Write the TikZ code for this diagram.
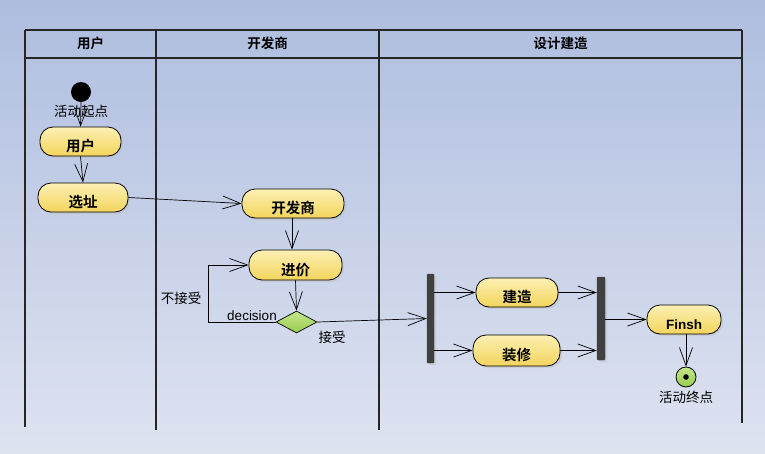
\documentclass[tikz,border=0pt]{standalone}
\usepackage{fontspec}
\setmainfont{Liberation Sans}
\newfontfamily\cjk{Noto Sans CJK SC}
\newfontfamily\cjkb{Noto Sans CJK SC Bold}
\usetikzlibrary{arrows.meta,shapes.geometric,shadows}
\definecolor{bgtop}{HTML}{AEBDDF}
\definecolor{bgbot}{HTML}{DEE3F0}
\definecolor{ntop}{HTML}{FCF0B4}
\definecolor{nbot}{HTML}{F3D45C}
\definecolor{gtop}{HTML}{C4E68A}
\definecolor{gbot}{HTML}{98CC50}
\definecolor{barc}{HTML}{404040}
\newcommand{\lowtxt}[2][-10pt]{\raisebox{#1}[0pt][0pt]{#2}}
\tikzset{
  act/.style={rounded corners=13pt, draw=black, line width=0.8pt, top color=ntop, bottom color=nbot,
    drop shadow={shadow xshift=2pt, shadow yshift=-2pt, fill=black!25, opacity=0.5},
    font=\cjkb\fontsize{14.5}{15}\selectfont, inner sep=0pt},
  lane/.style={draw=black!85, line width=1.1pt},
  conn/.style={line width=0.7pt, -{Straight Barb[length=18pt,width=13pt,line width=0.7pt]}},
  lbl/.style={font=\cjk\fontsize{13.5}{14}\selectfont, inner sep=0pt},
  hdr/.style={font=\cjkb\fontsize{13.5}{14}\selectfont, inner sep=0pt},
  barn/.style={fill=barc, draw=barc, rounded corners=1pt, inner sep=0pt,
    drop shadow={shadow xshift=2pt, shadow yshift=-2pt, fill=black!25, opacity=0.5}}
}
\begin{document}
\begin{tikzpicture}[x=1pt,y=-1pt]
\shade[top color=bgtop, bottom color=bgbot] (0,0) rectangle (765,453);
\useasboundingbox (0,0) rectangle (765,453);
% swimlanes
\draw[lane] (25,30) -- (742,30);
\draw[lane] (25,58) -- (742,58);
\draw[lane] (25,30) -- (25,427);
\draw[lane] (156,30) -- (156,430);
\draw[lane] (379,30) -- (379,430);
\draw[lane] (742,30) -- (742,423);
\node[hdr] (h1) at (90.5,43) {用户};
\node[hdr] (h2) at (267.5,43) {开发商};
\node[hdr] (h3) at (560.5,43) {设计建造};
% nodes
\node[circle, fill=black, minimum size=20pt, inner sep=0pt] (start) at (81,92) {};
\node[act, minimum width=81pt, minimum height=29pt] (user) at (80.5,141.5) {\lowtxt{用户}};
\node[act, minimum width=90pt, minimum height=29pt] (site) at (83,197.5) {\lowtxt{选址}};
\node[act, minimum width=102pt, minimum height=29pt] (dev) at (293,203.5) {\lowtxt{开发商}};
\node[act, minimum width=93pt, minimum height=30pt] (price) at (295.5,265) {\lowtxt{进价}};
\node[diamond, draw=black, line width=0.7pt, top color=gtop, bottom color=gbot, minimum width=41pt, minimum height=22pt, inner sep=0pt, aspect=1.9] (dec) at (296.5,322) {};
\node[barn, minimum width=7pt, minimum height=89pt] (fork) at (430.5,318.5) {};
\node[act, minimum width=82pt, minimum height=29pt] (build) at (517,292.5) {\lowtxt{建造}};
\node[act, minimum width=87pt, minimum height=31pt] (deco) at (516.5,350.5) {\lowtxt{装修}};
\node[barn, minimum width=8pt, minimum height=83pt] (join) at (601,318.5) {};
\node[act, minimum width=74pt, minimum height=29pt, font=\bfseries\fontsize{13.5}{14}\selectfont] (fin) at (684,319.5) {\lowtxt[-9.5pt]{Finsh}};
\node[circle, draw=black, line width=0.8pt, top color=gtop, bottom color=gbot, minimum size=20pt, inner sep=0pt] (end) at (686,377) {};
\fill (end.center) circle (2.8pt);
% labels
\node[lbl] (lstart) at (81,111) {活动起点};
\node[lbl] (lend) at (686,397) {活动终点};
\node[lbl] (lrej) at (181,298) {不接受};
\node[lbl, font=\fontsize{13.5}{14}\selectfont] (ldec) at (252,316) {decision};
\node[lbl] (lacc) at (332,337) {接受};
% connectors
\draw[conn] (start.south) -- (user.north);
\draw[conn] (user.south) -- (site.north);
\draw[conn] (site.east) -- (dev.west);
\draw[conn] (dev.south -| 292,0) -- (price.north -| 292,0);
\draw[conn] (price.south) -- (dec.north);
\coordinate (lb) at (208,322);
\coordinate (lt) at (208,265);
\draw[conn] (dec.west) -- (lb) -- (lt) -- (price.west);
\draw[conn] (dec.east) -- (fork.west);
\draw[conn] (fork.east |- build.west) -- (build.west);
\draw[conn] (fork.east |- deco.west) -- (deco.west);
\draw[conn] (build.east) -- (join.west |- build.east);
\draw[conn] (deco.east) -- (join.west |- deco.east);
\draw[conn] (join.east |- fin.west) -- (fin.west);
\draw[conn] (fin.south -| end.north) -- (end.north);
\end{tikzpicture}
\end{document}
